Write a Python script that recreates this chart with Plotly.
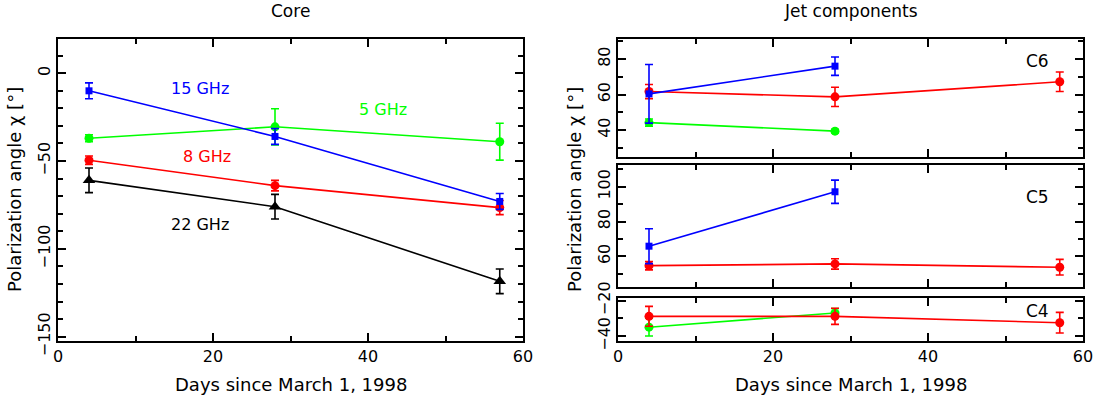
import plotly.graph_objects as go

W, H = 1095, 396

# ---------------- data ----------------
days = [4, 28, 57]

core_15 = [-10, -36, -73]
core_15_err = [4.5, 4.5, 4.5]
core_5 = [-37, -30.5, -39]
core_5_err = [2, 10.3, 10.5]
core_8 = [-49.5, -64, -76.5]
core_8_err = [2.4, 3, 4]
core_22 = [-61, -76, -118.5]
core_22_err = [7, 7, 7]

days_2 = [4, 28]

c6_15 = [60.4, 76]
c6_15_err = [16.5, 5.2]
c6_8 = [61.7, 58.7, 67.2]
c6_8_err = [4, 5.4, 5.5]
c6_5 = [44.2, 39.4]
c6_5_err = [2, 1]

c5_15 = [65.8, 97.1]
c5_15_err = [10, 6.7]
c5_8 = [54.6, 55.6, 53.7]
c5_8_err = [2.4, 3, 4.5]

c4_8 = [-28.8, -28.8, -32.4]
c4_8_err = [5.6, 4.5, 5.8]
c4_5 = [-34.9, -26.9]
c4_5_err = [5, 2.5]

BLUE, GREEN, RED, BLACK = "#0000ff", "#00ff00", "#ff0000", "#000000"
FONT = "DejaVu Sans"

def px(x):
    return x / W

def py(y):
    return 1 - y / H

fig = go.Figure()

def add(x, y, err, color, symbol, size, xa, ya):
    fig.add_trace(go.Scatter(
        x=x, y=y, mode="lines+markers",
        line=dict(color=color, width=1.6),
        marker=dict(color=color, symbol=symbol, size=size, line=dict(width=0)),
        error_y=dict(type="data", array=err, visible=True, color=color,
                     thickness=1.6, width=4),
        xaxis=xa, yaxis=ya, showlegend=False, hoverinfo="skip",
        cliponaxis=False))

# core panel
add(days, core_5, core_5_err, GREEN, "circle", 9, "x", "y")
add(days, core_8, core_8_err, RED, "circle", 9, "x", "y")
add(days, core_15, core_15_err, BLUE, "square", 7, "x", "y")
add(days, core_22, core_22_err, BLACK, "triangle-up", 11, "x", "y")

# C6
add(days_2, c6_5, c6_5_err, GREEN, "circle", 9, "x2", "y2")
add(days, c6_8, c6_8_err, RED, "circle", 9, "x2", "y2")
add(days_2, c6_15, c6_15_err, BLUE, "square", 7, "x2", "y2")
# C5
add(days, c5_8, c5_8_err, RED, "circle", 9, "x3", "y3")
add(days_2, c5_15, c5_15_err, BLUE, "square", 7, "x3", "y3")
# C4
add(days_2, c4_5, c4_5_err, GREEN, "circle", 9, "x4", "y4")
add(days, c4_8, c4_8_err, RED, "circle", 9, "x4", "y4")

L = (58, 523)
R = (618, 1083)
TOP, BOT = 39, 340.7
C6 = (39, 156.7)
C5 = (165, 286.7)
C4 = (298, 340.7)

TICKFONT = dict(family=FONT, size=16, color="black")

def xaxis(dom, anchor, labels):
    return dict(domain=[px(dom[0]), px(dom[1])], range=[0, 60], anchor=anchor,
                tick0=0, dtick=20, ticks="inside", ticklen=8, tickwidth=1.5,
                tickcolor="black", showline=True, linecolor="black", linewidth=2,
                mirror="ticks", showgrid=False, zeroline=False,
                showticklabels=labels, automargin=False,
                tickfont=TICKFONT,
                minor=dict(dtick=10, tick0=0, ticks="inside", ticklen=5,
                           tickwidth=1.5, tickcolor="black", showgrid=False))

def yaxis(dom, rng, dtick, anchor):
    return dict(domain=[py(dom[1]), py(dom[0])], range=rng, anchor=anchor,
                tick0=0, dtick=dtick, ticks="inside", ticklen=8, tickwidth=1.5,
                tickcolor="black", showline=True, linecolor="black", linewidth=2,
                mirror="ticks", showgrid=False, zeroline=False, tickangle=-90,
                automargin=False, tickfont=TICKFONT,
                minor=dict(dtick=10, tick0=0, ticks="inside", ticklen=5,
                           tickwidth=1.5, tickcolor="black", showgrid=False))

fig.update_layout(
    width=W, height=H, margin=dict(l=0, r=0, t=0, b=0, pad=0, autoexpand=False),
    paper_bgcolor="white", plot_bgcolor="white",
    xaxis=xaxis(L, "y", True),
    yaxis=yaxis((TOP, BOT), [-152.3, 19.5], 50, "x"),
    xaxis2=xaxis(R, "y2", False),
    yaxis2=yaxis(C6, [25, 91.3], 20, "x2"),
    xaxis3=xaxis(R, "y3", False),
    yaxis3=yaxis(C5, [42.5, 112.5], 20, "x3"),
    xaxis4=xaxis(R, "y4", True),
    yaxis4=yaxis(C4, [-42.5, -18.5], 20, "x4"),
)

def ann(text, x, y, size=16, color="black", angle=0):
    fig.add_annotation(text=text, x=px(x), y=py(y), xref="paper", yref="paper",
                       showarrow=False, textangle=angle,
                       font=dict(family=FONT, size=size, color=color),
                       xanchor="center", yanchor="middle")

ann("Core", 290.5, 11, 17)
ann("Jet components", 850.5, 11, 17)
ann("Days since March 1, 1998", 290.5, 384, 18)
ann("Days since March 1, 1998", 850.5, 384, 18)
ann("Polarization angle χ [°]", 14, 190, 18, angle=-90)
ann("Polarization angle χ [°]", 574, 190, 18, angle=-90)

ann("15 GHz", 200, 89, 16, BLUE)
ann("5 GHz", 383, 109, 16, GREEN)
ann("8 GHz", 207, 156, 16, RED)
ann("22 GHz", 200, 224, 16, BLACK)

ann("C6", 1037, 61, 17)
ann("C5", 1037, 197, 17)
ann("C4", 1037, 311, 17)

fig.write_html("out.html",
               config={"displayModeBar": False},
               post_script="document.body.style.margin='0';"
                           "document.body.style.padding='0';"
                           "document.body.style.overflow='hidden';")
